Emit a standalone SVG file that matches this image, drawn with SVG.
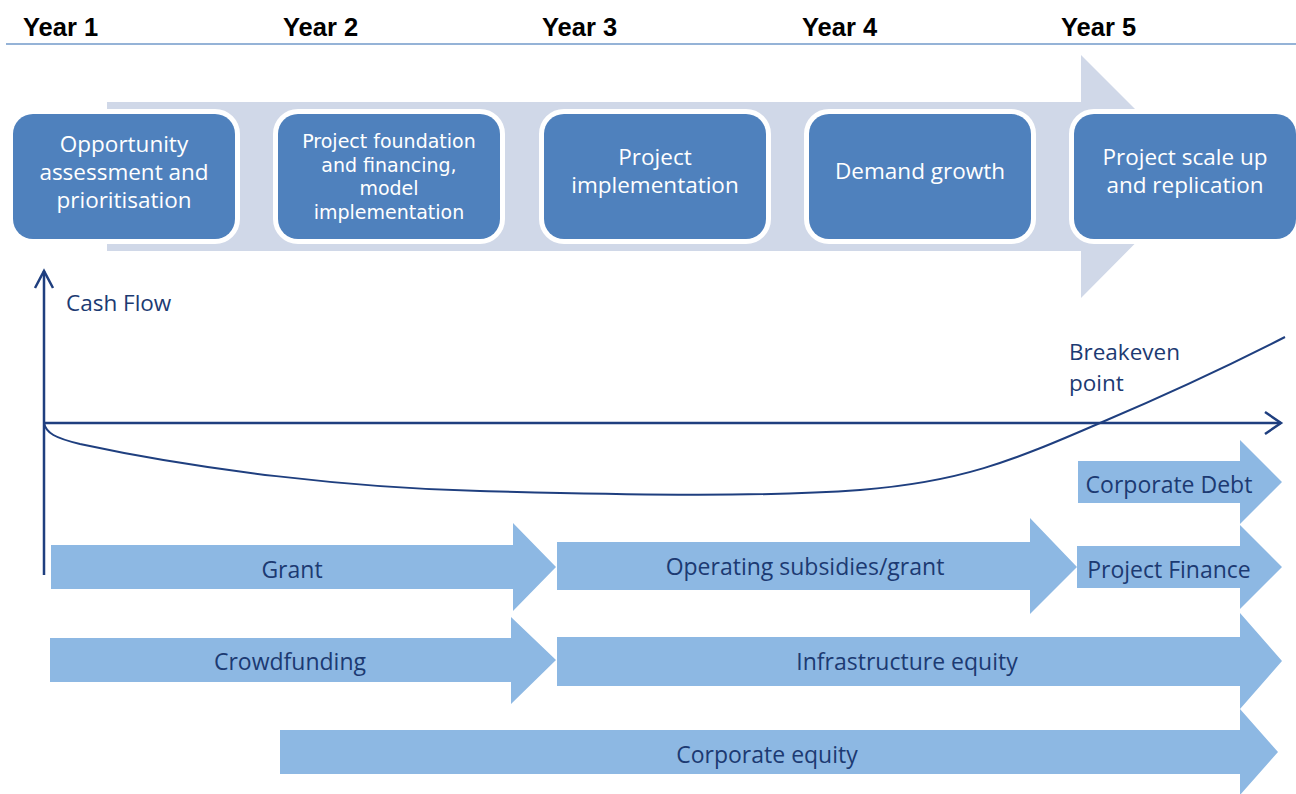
<svg xmlns="http://www.w3.org/2000/svg" width="1296" height="794" viewBox="0 0 1296 794">
  <defs>
    <style>
      .year { font-family: "Liberation Sans", Arial, sans-serif; font-weight: bold; font-size: 25.5px; fill: #000; }
      .stage { fill: #4f81bd; stroke: #fff; stroke-width: 10; paint-order: stroke; }
      .stxt { font-family: "Open Sans", "Noto Sans", sans-serif; font-size: 22.5px; fill: #fff; text-anchor: middle; }
      .stxt2 { font-family: "DejaVu Sans", "Open Sans", sans-serif; font-size: 19px; fill: #fff; text-anchor: middle; }
      .axis { fill: none; stroke: #1f3f7f; stroke-width: 2.5; }
      .curve { fill: none; stroke: #1f3f7f; stroke-width: 2; }
      .lbl { font-family: "Open Sans", "Noto Sans", sans-serif; font-size: 22.5px; fill: #1c3a72; }
      .fund { fill: #8db8e3; }
      .ftxt { font-family: "Open Sans", "Noto Sans", sans-serif; font-size: 23px; fill: #1c3a72; text-anchor: middle; }
    </style>
  </defs>

  <!-- year header -->
  <g id="years">
    <text class="year" x="23" y="36">Year 1</text>
    <text class="year" x="283" y="36">Year 2</text>
    <text class="year" x="542" y="36">Year 3</text>
    <text class="year" x="802" y="36">Year 4</text>
    <text class="year" x="1061" y="36">Year 5</text>
    <line x1="6" y1="44" x2="1296" y2="44" stroke="#95b3d7" stroke-width="2"/>
  </g>

  <!-- process backdrop arrow -->
  <g id="process-arrow">
    <polygon points="107,102 1081,102 1081,55 1202,176 1081,298 1081,251 107,251" fill="#d0d8e8"/>
  </g>

  <g id="stage1">
    <rect class="stage" x="13" y="114" width="222" height="125" rx="20"/>
    <text class="stxt" x="124" y="152">Opportunity</text>
    <text class="stxt" x="124" y="180">assessment and</text>
    <text class="stxt" x="124" y="208">prioritisation</text>
  </g>
  <g id="stage2">
    <rect class="stage" x="278" y="114" width="222" height="125" rx="20"/>
    <text class="stxt2" x="389" y="148">Project foundation</text>
    <text class="stxt2" x="389" y="171.5">and financing,</text>
    <text class="stxt2" x="389" y="195">model</text>
    <text class="stxt2" x="389" y="218.5">implementation</text>
  </g>
  <g id="stage3">
    <rect class="stage" x="544" y="114" width="222" height="125" rx="20"/>
    <text class="stxt" x="655" y="165">Project</text>
    <text class="stxt" x="655" y="193">implementation</text>
  </g>
  <g id="stage4">
    <rect class="stage" x="809" y="114" width="222" height="125" rx="20"/>
    <text class="stxt" x="920" y="179">Demand growth</text>
  </g>
  <g id="stage5">
    <rect class="stage" x="1074" y="114" width="222" height="125" rx="20"/>
    <text class="stxt" x="1185" y="165">Project scale up</text>
    <text class="stxt" x="1185" y="193">and replication</text>
  </g>

  <!-- cash flow chart -->
  <g id="connectors">
    <line class="axis" x1="44" y1="575" x2="44" y2="271"/>
    <polyline class="axis" points="35,288 44,271 53,288"/>
    <line class="axis" x1="44" y1="423" x2="1281" y2="423"/>
    <polyline class="axis" points="1265,412 1281,423 1265,434"/>
    <path class="curve" d="M44,423 C46,433 55,438 80,444 C200,470 350,488 480,491 C600,494 750,498 860,490 C960,482 1010,462 1100,423 C1180,389 1240,360 1285,337"/>
  </g>
  <g id="chart-labels">
    <text class="lbl" x="66" y="311">Cash Flow</text>
    <text class="lbl" x="1069" y="360">Breakeven</text>
    <text class="lbl" x="1069" y="391">point</text>
  </g>

  <!-- funding sources -->
  <g id="corporate-debt">
    <polygon class="fund" points="1078,461 1240,461 1240,440 1282,482 1240,524 1240,503 1078,503"/>
    <text class="ftxt" x="1169" y="493">Corporate Debt</text>
  </g>
  <g id="grant">
    <polygon class="fund" points="51,545 513,545 513,523 556,567 513,611 513,589 51,589"/>
    <text class="ftxt" x="292" y="578">Grant</text>
  </g>
  <g id="operating-subsidies">
    <polygon class="fund" points="557,542 1030,542 1030,518 1077,567 1030,614 1030,590 557,590"/>
    <text class="ftxt" x="805" y="575">Operating subsidies/grant</text>
  </g>
  <g id="project-finance">
    <polygon class="fund" points="1077,546 1240,546 1240,525 1282,567 1240,609 1240,588 1077,588"/>
    <text class="ftxt" x="1169" y="578">Project Finance</text>
  </g>
  <g id="crowdfunding">
    <polygon class="fund" points="50,638 511,638 511,617 556,660 511,704 511,682 50,682"/>
    <text class="ftxt" x="290" y="670">Crowdfunding</text>
  </g>
  <g id="infrastructure-equity">
    <polygon class="fund" points="557,637 1240,637 1240,613 1282,661 1240,709 1240,686 557,686"/>
    <text class="ftxt" x="907" y="670">Infrastructure equity</text>
  </g>
  <g id="corporate-equity">
    <polygon class="fund" points="280,730 1240,730 1240,709 1278,752 1240,795 1240,774 280,774"/>
    <text class="ftxt" x="767" y="763">Corporate equity</text>
  </g>
</svg>
